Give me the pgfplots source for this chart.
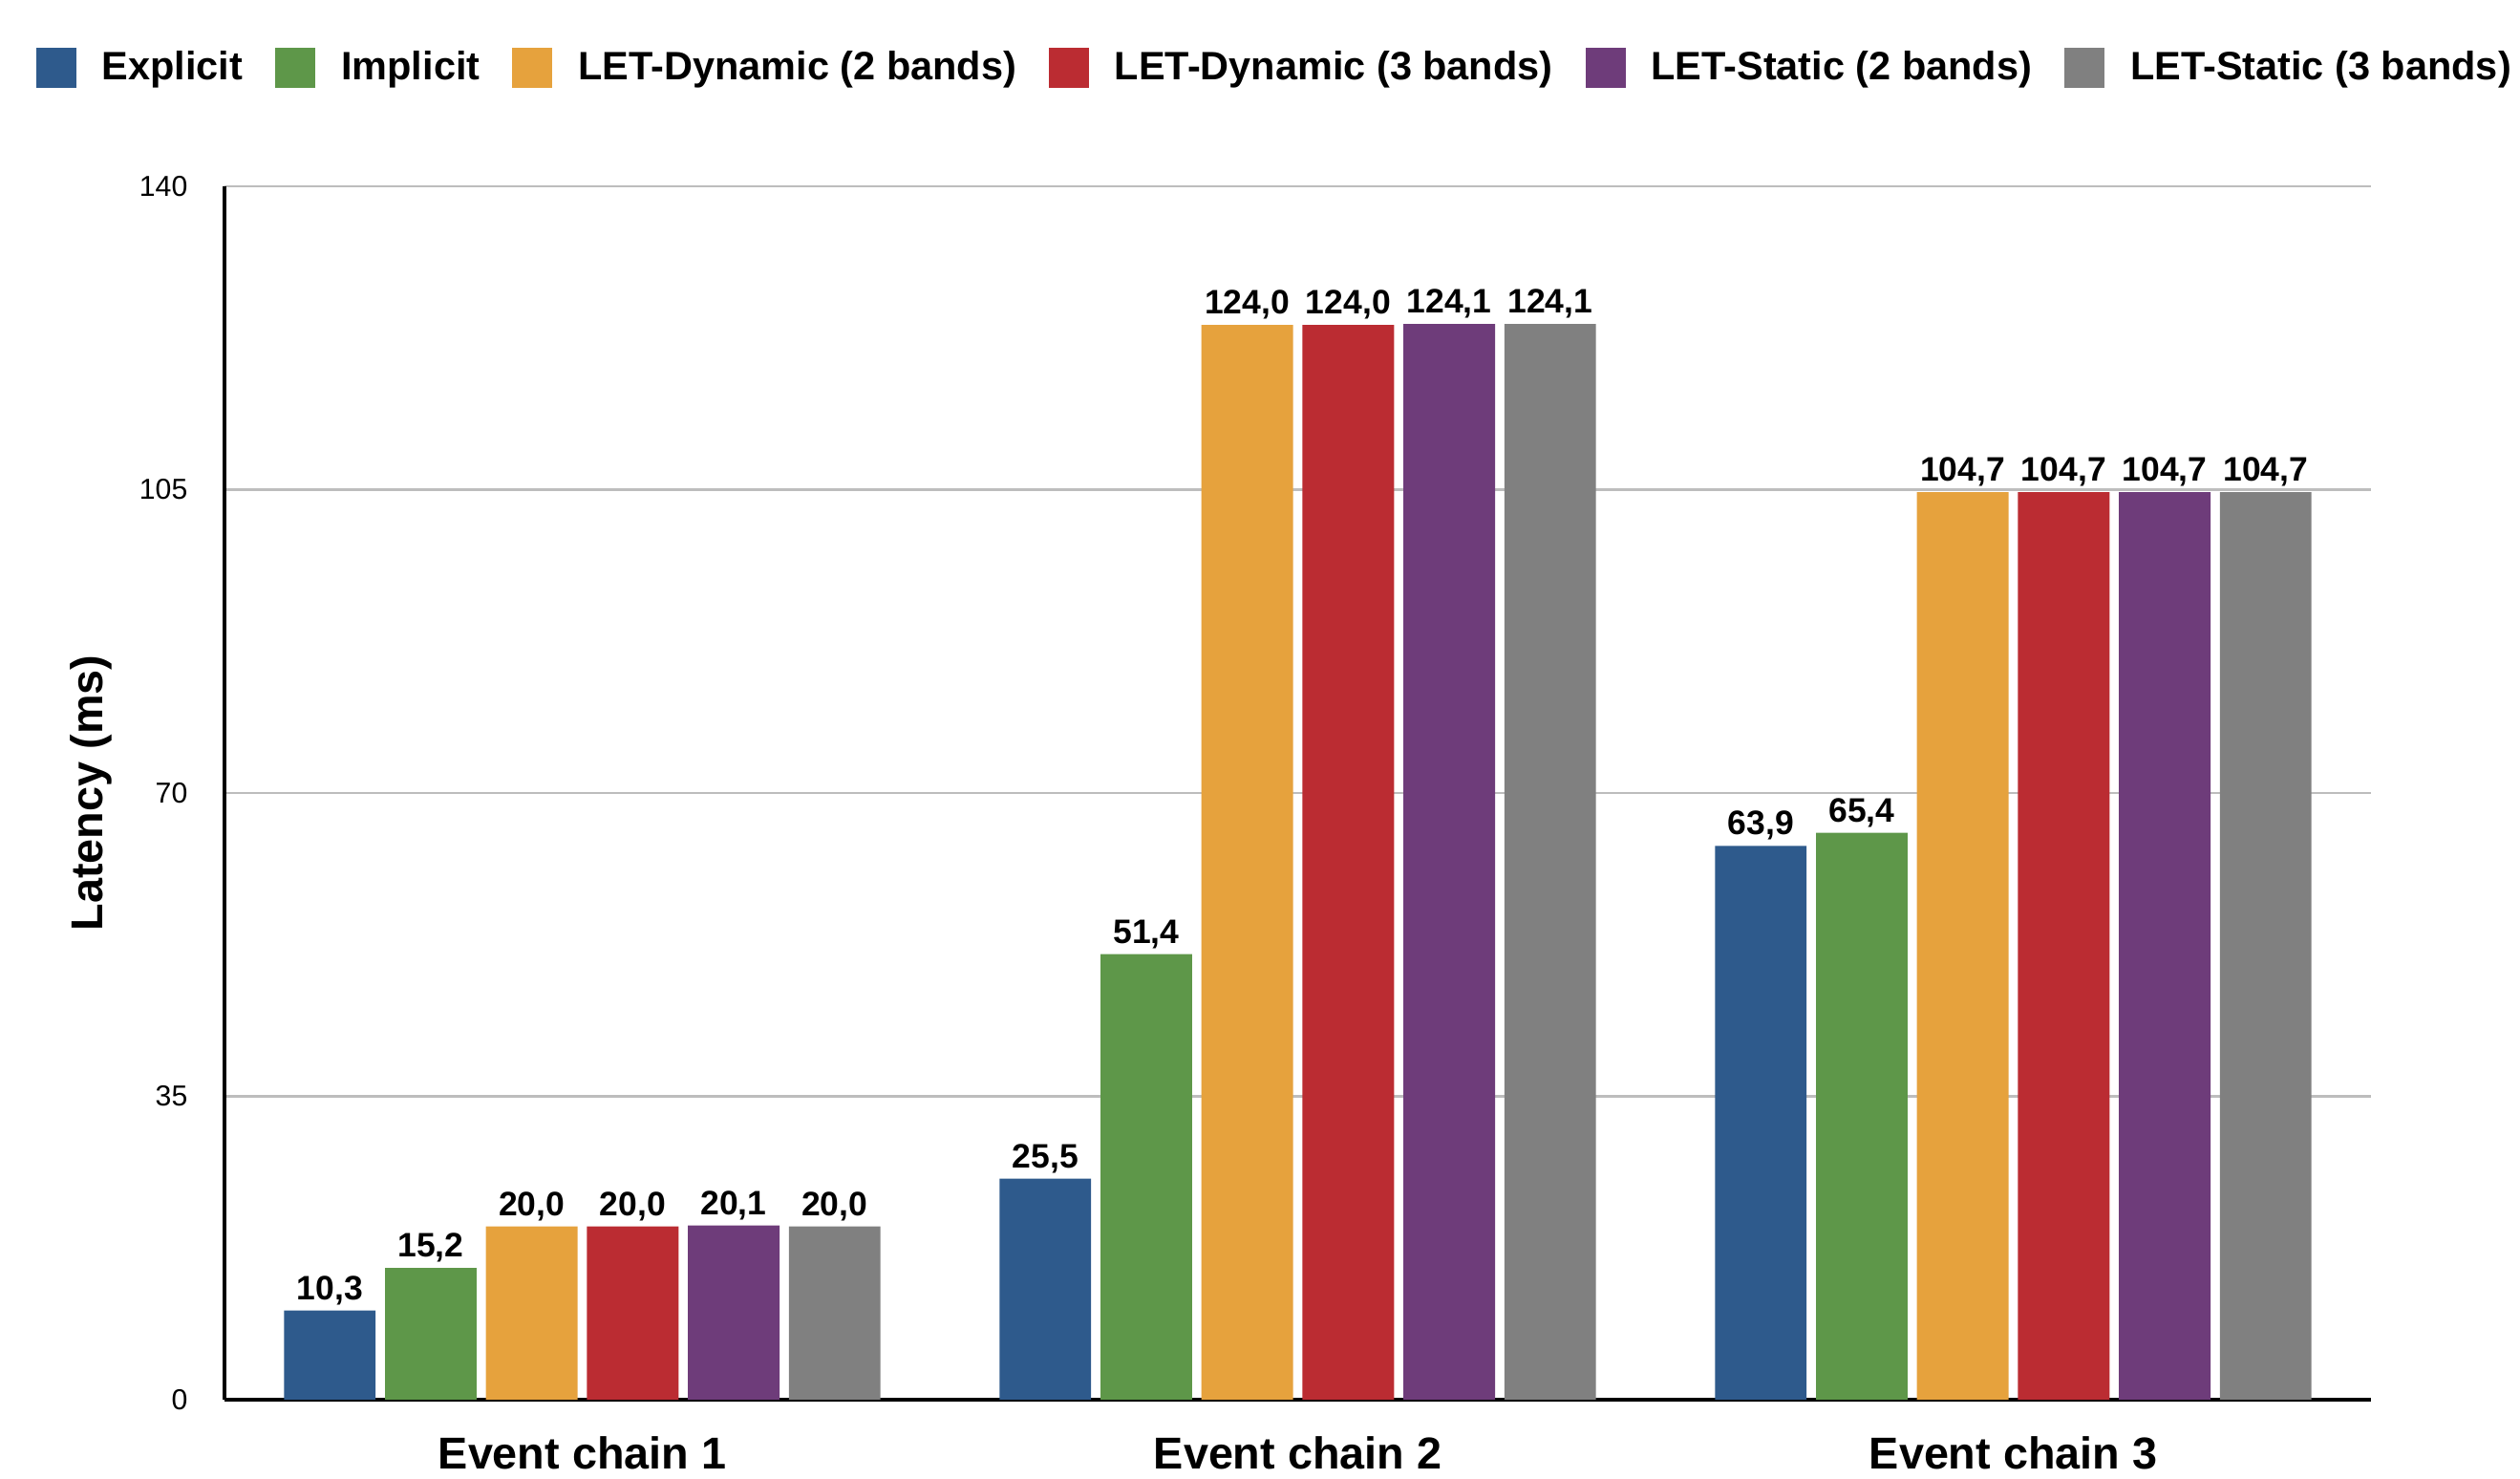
\documentclass[border=0pt]{standalone}
\usepackage{fontspec}
\setmainfont{Liberation Sans}
\usepackage{pgfplots}
\pgfplotsset{compat=1.18}
\definecolor{cExp}{HTML}{2E5A8C}
\definecolor{cImp}{HTML}{5E9749}
\definecolor{cLD2}{HTML}{E6A23D}
\definecolor{cLD3}{HTML}{BB2C32}
\definecolor{cLS2}{HTML}{6E3C7A}
\definecolor{cLS3}{HTML}{808080}
\definecolor{gridc}{HTML}{BDBDBD}
\begin{document}
\begin{tikzpicture}
\path[use as bounding box] (0,0) rectangle (26.38,15.48);
\begin{axis}[
  at={(2.35cm,0.83cm)}, anchor=south west,
  scale only axis, width=22.47cm, height=12.70cm,
  ybar, bar width=0.128,
  xmin=-0.5, xmax=2.5, ymin=0, ymax=140,
  xtick={0,1,2}, xticklabels={Event chain 1,Event chain 2,Event chain 3},
  ytick={0,35,70,105,140},
  tick style={draw=none},
  axis x line*=bottom, axis y line*=left,
  axis line style={-, line width=1pt, black},
  ymajorgrids, grid style={gridc, line width=0.6pt},
  /pgf/number format/assume math mode=true,
  yticklabel style={font=\fontsize{8.6}{10}\selectfont, inner sep=0pt, xshift=-10.8pt},
  xticklabel style={font=\fontsize{13.3}{16}\selectfont\bfseries, inner sep=0pt, yshift=-6.5pt},
  ylabel={Latency (ms)},
  ylabel style={at={(axis description cs:-0.0619,0.5)}, anchor=center, font=\fontsize{13.3}{16}\selectfont\bfseries},
  nodes near coords={\pgfmathprintnumber[fixed,fixed zerofill,precision=1,use comma,assume math mode=true]{\pgfplotspointmeta}},
  every node near coord/.append style={font=\fontsize{10.1}{12}\selectfont\bfseries, inner sep=1.5pt, black},
  legend columns=6,
  legend image code/.code={\path[#1,draw=none] (0cm,-0.21cm) rectangle (0.42cm,0.21cm);},
  legend style={at={(axis description cs:-0.0881,1.0976)}, anchor=west, draw=none, fill=none, inner sep=0pt,
    font=\fontsize{11.8}{14}\selectfont\bfseries,
    nodes={inner sep=0pt},
    /tikz/every even column/.append style={column sep=0.34cm},
    /tikz/every odd column/.append style={column sep=0.27cm}},
]
\addplot[fill=cExp, draw=none, bar shift=-0.3528] coordinates {(0,10.3) (1,25.5) (2,63.9)};
\addplot[fill=cImp, draw=none, bar shift=-0.2117] coordinates {(0,15.2) (1,51.4) (2,65.4)};
\addplot[fill=cLD2, draw=none, bar shift=-0.0706] coordinates {(0,20.0) (1,124.0) (2,104.7)};
\addplot[fill=cLD3, draw=none, bar shift=0.0706] coordinates {(0,20.0) (1,124.0) (2,104.7)};
\addplot[fill=cLS2, draw=none, bar shift=0.2117] coordinates {(0,20.1) (1,124.1) (2,104.7)};
\addplot[fill=cLS3, draw=none, bar shift=0.3528] coordinates {(0,20.0) (1,124.1) (2,104.7)};
\legend{Explicit,Implicit,LET-Dynamic (2 bands),LET-Dynamic (3 bands),LET-Static (2 bands),LET-Static (3 bands)}
\end{axis}
\end{tikzpicture}
\end{document}
